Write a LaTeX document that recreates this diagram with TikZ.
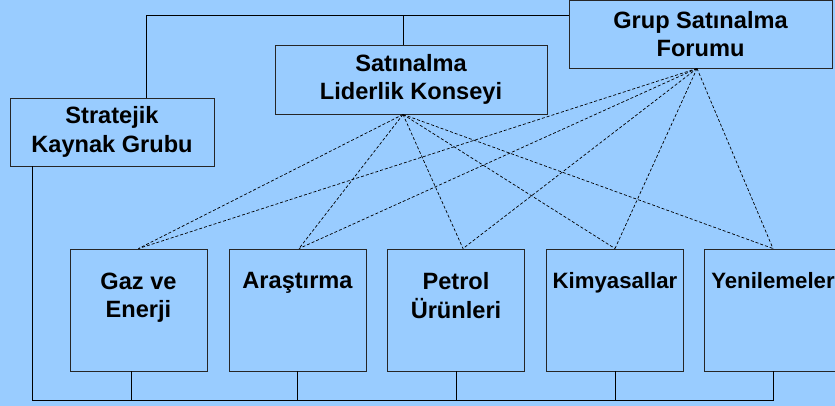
\documentclass[tikz,border=0pt]{standalone}
\usepackage{fontspec}
\setmainfont{Liberation Sans}
\usetikzlibrary{calc}
\definecolor{arka}{HTML}{99CCFF}
\tikzset{
    kutu/.style={draw=black!85, line width=0.9pt, inner sep=0pt, align=center,
        font=\bfseries\fontsize{23.6}{28.4}\selectfont},
    birim/.style={kutu, minimum width=137pt, minimum height=122pt},
    yazi/.style={anchor=north, yshift=-24pt, inner sep=0pt, align=center,
        font=\bfseries\fontsize{23.6}{28.4}\selectfont},
    bag/.style={line width=0.8pt},
    kesik/.style={line width=0.7pt, dash pattern=on 3pt off 2pt},
}
\begin{document}
\begin{tikzpicture}[x=1pt,y=-1pt]
        \useasboundingbox (0,0) rectangle (835,406);
        \fill[arka] (0,0) rectangle (835,406);
        % ust kurullar
        \node[kutu, minimum width=204pt, minimum height=68pt] (skg) at (112,132) {Stratejik\\Kaynak Grubu};
        \node[kutu, minimum width=272pt, minimum height=69pt] (slk) at (411,79.5) {Satınalma\\Liderlik Konseyi};
        \node[kutu, minimum width=263pt, minimum height=68pt] (gsf) at (700.5,34) {Grup Satınalma\\Forumu};
        % birimler
        \node[birim, label={[yazi]north:Gaz ve\\Enerji}] (gaz) at (138.5,310) {};
        \node[birim, label={[yazi]north:Araştırma}] (ars) at (297.5,310) {};
        \node[birim, label={[yazi]north:Petrol\\Ürünleri}] (pet) at (456,310) {};
        \node[birim, label={[yazi, font=\bfseries\fontsize{22.2}{28.4}\selectfont]north:Kimyasallar}] (kim) at (615,310) {};
        \node[birim, label={[yazi, font=\bfseries\fontsize{22.2}{28.4}\selectfont]north:Yenilemeler}] (yen) at (773,310) {};
        % duz baglantilar
        \coordinate (ust) at (0,15);
        \coordinate (alt) at (0,400);
        \draw[bag] ([xshift=34pt]skg.north) |- ([yshift=19pt]gsf.west);
        \draw[bag] ([xshift=-8pt]slk.north) -- ([xshift=-8pt]slk.north |- ust);
        \draw[bag] ([xshift=-80pt]skg.south) |- (yen.south |- alt) -- (yen.south);
        \draw[bag] ([xshift=-7.5pt]gaz.south) -- ([xshift=-7.5pt]gaz.south |- alt);
        \foreach \b in {ars,pet,kim}
            \draw[bag] (\b.south) -- (\b.south |- alt);
        % kesikli baglantilar
        \foreach \b/\d in {gaz/0,ars/1.5,pet/7,kim/0,yen/0} {
            \draw[kesik] ([xshift=-8pt]slk.south) -- ([xshift=\d pt]\b.north);
            \draw[kesik] ([xshift=-3.5pt]gsf.south) -- ([xshift=\d pt]\b.north);
        }
\end{tikzpicture}
\end{document}
